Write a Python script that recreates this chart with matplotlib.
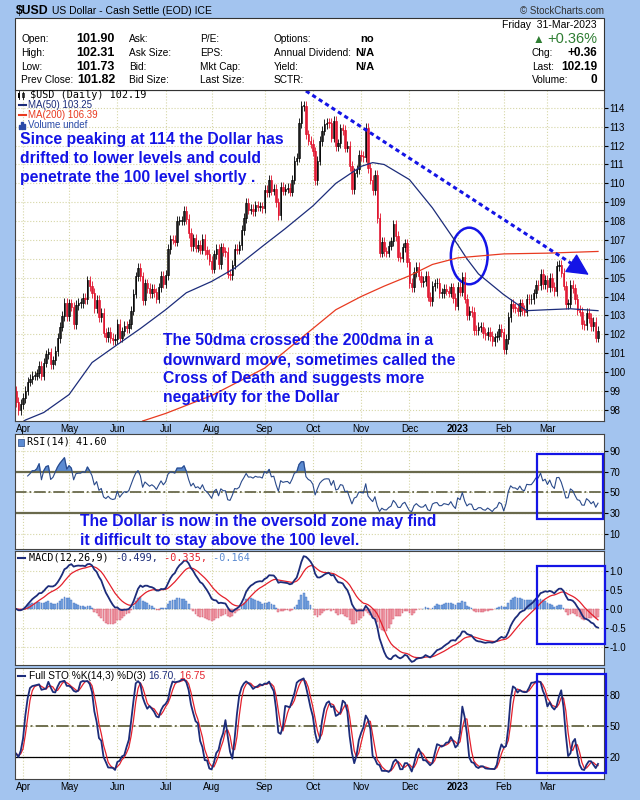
import numpy as np
import pandas as pd
import matplotlib
matplotlib.use("Agg")
import matplotlib.pyplot as plt
from matplotlib.patches import Rectangle, Ellipse

plt.rcParams['font.family'] = ['Liberation Sans', 'DejaVu Sans']

# daily closes, one list per month
close_mar22 = [98.41, 97.99, 98.31]
close_apr22 = [98.62, 99.01, 99.49, 99.62, 99.80, 99.80, 99.93, 100.31, 99.81, 100.50,
               100.94, 101.04, 100.43, 100.62, 101.12, 101.79, 102.40, 102.96, 103.67, 102.96]
close_may22 = [103.63, 103.46, 102.55, 103.56, 103.66, 103.66, 103.92, 103.86, 104.85, 104.56,
               104.18, 103.37, 103.83, 102.91, 103.15, 102.09, 101.86, 102.12, 101.80, 101.69, 101.75]
close_jun22 = [102.54, 101.82, 102.15, 102.44, 102.34, 102.55, 103.25, 104.15, 105.07, 105.51,
               105.07, 103.81, 104.70, 104.45, 104.19, 104.41, 104.22, 103.89, 104.49, 105.10, 104.69]
close_jul22 = [105.13, 106.52, 107.03, 107.01, 106.91, 108.03, 108.03, 108.03, 108.55, 108.10,
               107.36, 106.68, 107.09, 106.59, 106.73, 106.49, 107.04, 106.45, 106.25, 105.90]
close_aug22 = [105.48, 106.24, 106.51, 105.73, 106.61, 106.38, 106.37, 105.21, 105.12, 105.69,
               106.54, 106.49, 106.72, 107.53, 108.16, 108.97, 108.61, 108.64, 108.53, 108.83,
               108.76, 108.78, 108.70]
close_sep22 = [109.67, 109.54, 110.19, 109.62, 109.72, 109.00, 108.33, 109.80, 109.62, 109.72,
               109.76, 109.56, 110.19, 111.21, 111.36, 113.19, 114.11, 114.11, 112.60, 112.26, 112.11]
close_oct22 = [111.69, 110.17, 111.20, 112.24, 112.79, 113.15, 113.22, 113.20, 112.42, 113.31,
               111.96, 112.12, 112.92, 112.83, 111.90, 111.99, 110.93, 109.71, 110.57, 110.74, 111.52]
close_nov22 = [111.44, 111.38, 112.93, 110.82, 110.20, 109.63, 110.44, 108.16, 106.33, 106.91,
               106.39, 106.33, 106.70, 106.92, 107.82, 107.22, 106.11, 106.06, 106.61, 106.82, 105.81]
close_dec22 = [104.72, 104.51, 105.29, 105.59, 105.10, 104.78, 104.82, 105.10, 104.00, 103.76,
               104.55, 104.70, 104.73, 104.18, 104.19, 104.39, 104.31, 104.21, 104.49, 103.92, 103.52]
close_jan23 = [104.52, 104.26, 105.05, 103.88, 103.01, 103.23, 103.18, 102.22, 102.20, 102.38,
               102.38, 102.07, 101.97, 102.14, 101.91, 101.63, 101.83, 101.92, 102.27, 102.10]
close_feb23 = [101.22, 101.75, 102.92, 103.62, 103.41, 103.40, 103.24, 103.63, 103.28, 103.20,
               103.88, 103.85, 103.86, 104.17, 104.60, 104.59, 105.21, 104.67, 104.87]
close_mar23 = [104.48, 104.98, 104.52, 104.30, 105.62, 105.66, 105.27, 104.58, 103.60, 103.62,
               104.63, 104.43, 103.86, 103.29, 103.20, 102.53, 102.50, 103.12, 102.87, 102.44,
               102.64, 101.82, 102.19]
first_open = 98.99

holidays = ['2022-04-15', '2022-05-30', '2022-06-20', '2022-07-04', '2022-09-05',
            '2022-11-24', '2022-12-26', '2023-01-02', '2023-01-16', '2023-02-20']

# moving averages at a few dates
ma50_dates = ['2022-03-29', '2022-04-04', '2022-04-14', '2022-05-02', '2022-05-16', '2022-06-01',
              '2022-06-15', '2022-07-01', '2022-07-15', '2022-08-01', '2022-08-15', '2022-09-01',
              '2022-09-15', '2022-10-03', '2022-10-17', '2022-11-01', '2022-11-08', '2022-11-15',
              '2022-12-01', '2022-12-15', '2023-01-03', '2023-01-09', '2023-01-17', '2023-02-01',
              '2023-02-10', '2023-02-15', '2023-03-01', '2023-03-15', '2023-03-31']
ma50_vals = [97.1, 97.45, 97.85, 98.8, 100.5, 101.45, 102.3, 103.3, 104.2, 104.8, 105.5, 106.75,
             107.6, 108.8, 110.0, 110.9, 111.1, 111.0, 110.2, 108.7, 106.75, 106.0, 105.2, 104.1,
             103.5, 103.25, 103.3, 103.35, 103.25]
ma200_dates = ['2022-06-16', '2022-07-01', '2022-08-01', '2022-09-01', '2022-09-15', '2022-10-03',
               '2022-10-17', '2022-11-01', '2022-11-15', '2022-12-01', '2022-12-15', '2023-01-03',
               '2023-02-01', '2023-03-01', '2023-03-31']
ma200_vals = [97.4, 97.8, 98.75, 100.2, 101.1, 102.3, 103.3, 104.0, 104.55, 105.1, 105.7, 106.05,
              106.26, 106.3, 106.39]

BLUE = '#1414e6'
NAVY = '#1c2c7a'
RED = '#e4202c'
BG = '#a3c4ef'
GRID = '#d6d6a6'
NOTE_SIZE = 11.3

closes = np.array(close_mar22 + close_apr22 + close_may22 + close_jun22 + close_jul22 +
                  close_aug22 + close_sep22 + close_oct22 + close_nov22 + close_dec22 +
                  close_jan23 + close_feb23 + close_mar23)
dates = pd.bdate_range('2022-03-29', '2023-03-31', freq='C', holidays=holidays)
assert len(dates) == len(closes)
x = np.arange(len(dates))


def day_pos(d):
    return dates.searchsorted(pd.Timestamp(d))


# candles (open = previous close)
c = pd.Series(closes)
o = c.shift(1)
o.iloc[0] = first_open
up = (c >= o).values
WICK = 0.25
hi = np.maximum(o, c) + WICK
lo = np.minimum(o, c) - WICK

# indicators
d = c - o
gain = d.clip(lower=0).ewm(alpha=1 / 14, adjust=True, min_periods=6).mean()
loss = (-d).clip(lower=0).ewm(alpha=1 / 14, adjust=True, min_periods=6).mean()
rsi = 100 - 100 / (1 + gain / loss)

ema12 = c.ewm(span=12, adjust=False).mean()
ema26 = c.ewm(span=26, adjust=False).mean()
macd = ema12 - ema26
signal = macd.ewm(span=9, adjust=False).mean()
hist = macd - signal

ll = lo.rolling(14, min_periods=1).min()
hh = hi.rolling(14, min_periods=1).max()
fast_k = 100 * (c - ll) / (hh - ll)
sto_k = fast_k.rolling(3, min_periods=1).mean()
sto_d = sto_k.rolling(3, min_periods=1).mean()

# month ticks
s = pd.Series(x, index=dates)
firsts = s.groupby([dates.year, dates.month]).first().values[1:]
month_lbls = ['2023' if dates[i].month == 1 else dates[i].strftime('%b') for i in firsts]

fig = plt.figure(figsize=(6.4, 8), dpi=100, facecolor=BG)


def rect(x0, y0, x1, y1):
    return [x0 / 640, 1 - y1 / 800, (x1 - x0) / 640, (y1 - y0) / 800]


def ftext(px, py, txt, **kw):
    kw.setdefault('va', 'center')
    return fig.text(px / 640, 1 - py / 800, txt, **kw)


# header
fig.patches.append(Rectangle((15 / 640, 1 - 90 / 800), 589 / 640, 72 / 800, transform=fig.transFigure,
                             facecolor='white', edgecolor='#333333', lw=0.8))
ftext(16, 11, '$USD', fontsize=8.8, fontweight='bold')
ftext(52, 11, 'US Dollar - Cash Settle (EOD) ICE', fontsize=7.5)
ftext(604, 11, '© StockCharts.com', fontsize=7, ha='right', color='#333333')

rows_y = [39, 53, 67, 80]
col1 = ['Open:', 'High:', 'Low:', 'Prev Close:']
val1 = ['101.90', '102.31', '101.73', '101.82']
col2 = ['Ask:', 'Ask Size:', 'Bid:', 'Bid Size:']
col3 = ['P/E:', 'EPS:', 'Mkt Cap:', 'Last Size:']
col4 = ['Options:', 'Annual Dividend:', 'Yield:', 'SCTR:']
val4 = ['no', 'N/A', 'N/A', '']
right_lbl = ['', 'Chg:', 'Last:', 'Volume:']
right_val = ['', '+0.36', '102.19', '0']
for i, yy in enumerate(rows_y):
    ftext(21, yy, col1[i], fontsize=7.3)
    ftext(115, yy, val1[i], fontsize=9, fontweight='bold', ha='right')
    ftext(129, yy, col2[i], fontsize=7.3)
    ftext(200, yy, col3[i], fontsize=7.3)
    ftext(274, yy, col4[i], fontsize=7.3)
    ftext(374, yy, val4[i], fontsize=8, fontweight='bold', ha='right')
    ftext(532, yy, right_lbl[i], fontsize=7.3)
    ftext(597, yy, right_val[i], fontsize=8.5, fontweight='bold', ha='right')
ftext(597, 25, 'Friday  31-Mar-2023', fontsize=7.5, ha='right')
ftext(597, 39, '+0.36%', fontsize=10.5, ha='right', color='#2e7d32')
ftext(533, 40, '▲', fontsize=8.5, color='#2e7d32')

# panels
ax_p = fig.add_axes(rect(15, 90, 604, 421))
ax_r = fig.add_axes(rect(15, 434, 604, 549))
ax_m = fig.add_axes(rect(15, 551, 604, 665))
ax_s = fig.add_axes(rect(15, 668, 604, 779))

for ax in (ax_p, ax_r, ax_m, ax_s):
    ax.set_facecolor('white')
    ax.set_xlim(-0.5, 255.6)
    ax.set_xticks(firsts)
    ax.grid(True, color=GRID, linestyle=':', lw=0.8)
    ax.set_axisbelow(True)
    ax.yaxis.tick_right()
    ax.tick_params(axis='y', labelsize=7, length=3, pad=1)
    ax.tick_params(axis='x', length=0, labelsize=7, pad=2)
    for sp in ax.spines.values():
        sp.set_color('#444444')
        sp.set_linewidth(0.8)
    if ax in (ax_p, ax_s):
        ax.set_xticklabels(month_lbls)
        for t in ax.get_xticklabels():
            if t.get_text() == '2023':
                t.set_fontweight('bold')
    else:
        ax.set_xticklabels([])

# price panel
ax_p.set_ylim(97.4, 114.95)
ax_p.set_yticks(range(98, 115))
edge = np.where(up, 'black', '#e0102a')
face = np.where(up, '#bdbdbd', '#f06078')
ax_p.vlines(x, lo, hi, colors=edge, lw=0.6)
ax_p.bar(x, np.maximum(np.abs(c - o), 0.04), bottom=np.minimum(o, c), width=0.62,
         color=face, edgecolor=edge, linewidth=0.5)
ax_p.plot([day_pos(dd) for dd in ma50_dates], ma50_vals, color=NAVY, lw=0.9)
ax_p.plot([day_pos(dd) for dd in ma200_dates], ma200_vals, color='#e83a20', lw=0.9)

ax_p.plot([126, 246], [114.9, 105.39], color=BLUE, lw=2.2, linestyle=(0, (1.4, 1.1)))
ax_p.annotate('', xy=(249, 105.15), xytext=(244, 105.55),
              arrowprops=dict(arrowstyle='-|>,head_length=0.7,head_width=0.35', color=BLUE,
                              lw=1, mutation_scale=20, shrinkA=0, shrinkB=0))
ax_p.add_patch(Ellipse((197, 106.15), 16, 3.0, fill=False, edgecolor=BLUE, lw=1.8))

# legend of the price panel
ftext(30, 95, '$USD (Daily) 102.19', fontsize=7.3, family='DejaVu Sans Mono')
fig.lines.append(plt.Line2D([19 / 640] * 2, [1 - 99 / 800, 1 - 91 / 800], color='black', lw=0.6,
                            transform=fig.transFigure))
fig.patches.append(Rectangle((18 / 640, 1 - 98 / 800), 2 / 640, 5 / 800, transform=fig.transFigure,
                             facecolor='black', lw=0))
fig.lines.append(plt.Line2D([23 / 640] * 2, [1 - 99 / 800, 1 - 92 / 800], color='black', lw=0.6,
                            transform=fig.transFigure))
fig.patches.append(Rectangle((22 / 640, 1 - 97 / 800), 2 / 640, 4 / 800, transform=fig.transFigure,
                             facecolor='white', edgecolor='black', lw=0.5))
ftext(28, 105, 'MA(50) 103.25', fontsize=7, color=NAVY)
ftext(28, 115, 'MA(200) 106.39', fontsize=7, color='#e83a20')
ftext(28, 125, 'Volume undef', fontsize=7, color='#2a4aa8')
fig.lines.append(plt.Line2D([19 / 640, 26 / 640], [1 - 105 / 800] * 2, color=NAVY, lw=1.5,
                            transform=fig.transFigure))
fig.lines.append(plt.Line2D([19 / 640, 26 / 640], [1 - 115 / 800] * 2, color='#e83a20', lw=1.5,
                            transform=fig.transFigure))
for k, hgt in enumerate([4, 7, 5]):
    fig.patches.append(Rectangle(((19 + 2.3 * k) / 640, 1 - 129 / 800), 1.4 / 640, hgt / 800,
                                 transform=fig.transFigure, color='#2a4aa8'))

main_lines = ['Since peaking at 114 the Dollar has', 'drifted to lower levels and could',
              'penetrate the 100 level shortly .']
for i, ln in enumerate(main_lines):
    ftext(20, 144 + 19 * i, ln, fontsize=NOTE_SIZE, fontweight='bold', color=BLUE, va='baseline')
cross_lines = ['The 50dma crossed the 200dma in a', 'downward move, sometimes called the',
               'Cross of Death and suggests more', 'negativity for the Dollar']
for i, ln in enumerate(cross_lines):
    ftext(163, 345 + 19 * i, ln, fontsize=NOTE_SIZE, fontweight='bold', color=BLUE, va='baseline')

# RSI panel
ax_r.set_ylim(-4.4, 106)
ax_r.set_yticks([10, 30, 50, 70, 90])
ax_r.axhline(70, color='#6a6a4c', lw=1.6)
ax_r.axhline(30, color='#6a6a4c', lw=1.6)
ax_r.axhline(50, color='#6a6a4c', lw=1.3, linestyle='-.')
ax_r.fill_between(x, rsi, 70, where=rsi > 70, interpolate=True, color='#5b8bd2')
ax_r.plot(x, rsi, color='#2a4a8a', lw=0.8)
ftext(27, 442, 'RSI(14) 41.60', fontsize=7.3, family='DejaVu Sans Mono')
fig.patches.append(Rectangle((18 / 640, 1 - 446 / 800), 6 / 640, 7 / 800, transform=fig.transFigure,
                             facecolor='#5b8bd2', edgecolor='#2a4a8a', lw=0.5))
ftext(80, 526, 'The Dollar is now in the oversold zone may find', fontsize=NOTE_SIZE,
      fontweight='bold', color=BLUE, va='baseline')
ftext(80, 545, 'it difficult to stay above the 100 level.', fontsize=NOTE_SIZE,
      fontweight='bold', color=BLUE, va='baseline')

# MACD panel
ax_m.set_ylim(-1.47, 1.52)
ax_m.set_yticks([-1, -0.5, 0, 0.5, 1])
ax_m.set_yticklabels(['-1.0', '-0.5', '0.0', '0.5', '1.0'])
pos = hist >= 0
ax_m.bar(x[pos], hist[pos], width=0.8, color='#7ea8e0', edgecolor='#3a6cc0', lw=0.3)
ax_m.bar(x[~pos], hist[~pos], width=0.8, color='#f3a6b0', edgecolor='#d24a62', lw=0.3)
ax_m.plot(x, signal, color=RED, lw=0.9)
ax_m.plot(x, macd, color=NAVY, lw=1.3)
t0 = ftext(29, 558, 'MACD(12,26,9) ', fontsize=7.3, family='DejaVu Sans Mono')
t1 = ax_m.annotate('-0.499,', xy=(1, 0), xycoords=t0, fontsize=7.3, family='DejaVu Sans Mono',
                   color=NAVY, va='bottom')
t2 = ax_m.annotate(' -0.335,', xy=(1, 0), xycoords=t1, fontsize=7.3, family='DejaVu Sans Mono',
                   color=RED, va='bottom')
ax_m.annotate(' -0.164', xy=(1, 0), xycoords=t2, fontsize=7.3, family='DejaVu Sans Mono',
              color='#5b8bd2', va='bottom')
fig.lines.append(plt.Line2D([18 / 640, 25 / 640], [1 - 558 / 800] * 2, color=NAVY, lw=1.5,
                            transform=fig.transFigure))

# Stochastic panel
ax_s.set_ylim(-1.3, 105.8)
ax_s.set_yticks([20, 50, 80])
ax_s.axhline(80, color='black', lw=0.9)
ax_s.axhline(20, color='black', lw=0.9)
ax_s.axhline(50, color='#707050', lw=1.4, linestyle='-.')
ax_s.plot(x, sto_d, color=RED, lw=0.9)
ax_s.plot(x, sto_k, color=NAVY, lw=1.3)
u0 = ftext(29, 676, 'Full STO %K(14,3) %D(3) ', fontsize=7.3)
u1 = ax_s.annotate('16.70,', xy=(1, 0), xycoords=u0, fontsize=7.3, color=NAVY, va='bottom')
ax_s.annotate(' 16.75', xy=(1, 0), xycoords=u1, fontsize=7.3, color=RED, va='bottom')
fig.lines.append(plt.Line2D([18 / 640, 25 / 640], [1 - 676 / 800] * 2, color=NAVY, lw=1.5,
                            transform=fig.transFigure))

# blue highlight boxes
for bx0, by0, bx1, by1 in [(537, 454, 603, 519), (537, 566, 605, 644), (537, 674, 606, 773)]:
    fig.patches.append(Rectangle((bx0 / 640, 1 - by1 / 800), (bx1 - bx0) / 640, (by1 - by0) / 800,
                                 transform=fig.transFigure, fill=False, edgecolor=BLUE, lw=1.6,
                                 zorder=10))

fig.savefig('out.png', dpi=100, facecolor=BG)
